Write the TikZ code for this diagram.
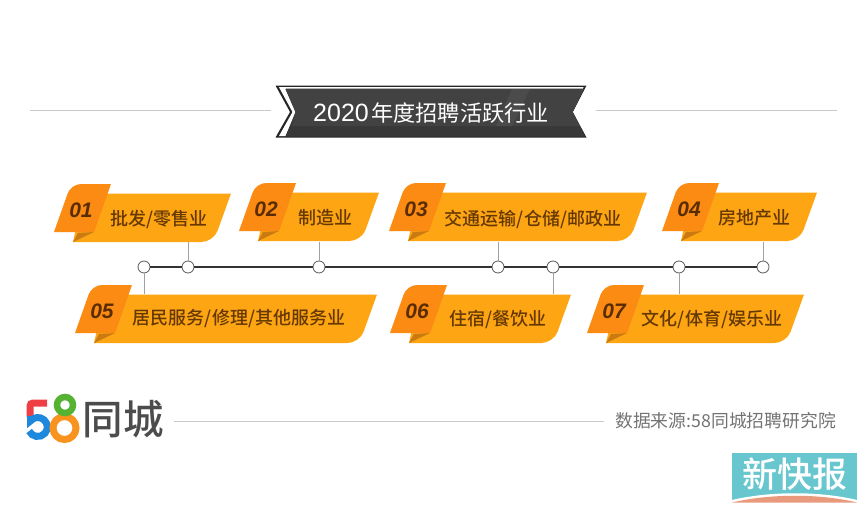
\documentclass[tikz,border=0pt]{standalone}
\usepackage{fontspec}
\setmainfont{Liberation Sans}
\newfontfamily\cjk{Noto Sans CJK SC}
\newfontfamily\cjkmid{Noto Sans CJK SC Medium}
\definecolor{tabbody}{HTML}{FDA513}
\definecolor{tabfront}{HTML}{FB8B13}
\definecolor{tabfold}{HTML}{C97A10}
\definecolor{tabtext}{HTML}{653804}
\definecolor{numcolor}{HTML}{5A2C02}
\definecolor{rulegray}{HTML}{C9C9C9}
\definecolor{bannerdark}{HTML}{424242}
\definecolor{bannerlow}{HTML}{383838}
\definecolor{papercyan}{HTML}{68C6CF}
\definecolor{paperband}{HTML}{E99A7C}
\definecolor{logored}{HTML}{EE3F45}
\definecolor{logoblue}{HTML}{1E88DC}
\definecolor{logogreen}{HTML}{55B233}
\definecolor{logoorange}{HTML}{F7931E}
\tikzset{
  pin/.style={circle,fill=white,draw=black!65,line width=0.8pt,inner sep=0pt,minimum size=12pt},
  stem/.style={rulegray!80!black,line width=1pt},
  axis/.style={black!80,line width=1.2pt},
  hline/.style={rulegray,line width=1pt},
  numtext/.style={font=\bfseries\itshape\fontsize{21}{21}\selectfont,text=numcolor,inner sep=0pt},
  lbltext/.style={font=\cjkmid\fontsize{18}{18}\selectfont,text=tabtext,inner sep=0pt},
}
\begin{document}
\begin{tikzpicture}[x=1pt,y=-1pt]
  \useasboundingbox (0,0) rectangle (866,527);

  % title
  \coordinate (l1) at (30,110);
  \coordinate (l2) at (271,110);
  \coordinate (l3) at (596,110);
  \coordinate (l4) at (837,110);
  \draw[hline] (l1) -- (l2);
  \draw[hline] (l3) -- (l4);
  \fill[black!85] (275.5,85.5) -- (586.5,85.5) -- (572.7,112) -- (586.5,137.5) -- (275.5,137.5) -- (290,112) -- cycle;
  \fill[white] (279,87.2) -- (583.5,87.2) -- (583,88.7) -- (285.5,88.7) -- (296,112) -- (285.5,136) -- (279,136) -- (292.5,112) -- cycle;
  \fill[bannerlow] (285.5,89) -- (584,89) -- (572.7,112) -- (585,136.5) -- (285.5,136.5) -- (295.5,112) -- cycle;
  \fill[bannerdark] (285.5,89) -- (583.5,89) -- (572.7,112) -- (580,126) -- (292,126) -- (295.5,112) -- cycle;
  \fill[white,opacity=0.05] (512,89) -- (530,89) -- (512,126) -- (496,126) -- cycle;
  \node[font=\fontsize{25}{25}\selectfont,text=white,inner sep=0pt,anchor=west] (year) at (313,113) {2020};
  \node[font=\cjk\fontsize{22.2}{22.2}\selectfont,text=white,inner sep=0pt,anchor=west] (title) at (371,113) {年度招聘活跃行业};

  % timeline
  \node[pin] (p1) at (144,267) {};
  \node[pin] (p2) at (188,267) {};
  \node[pin] (p3) at (319,267) {};
  \node[pin] (p4) at (498,267) {};
  \node[pin] (p5) at (553,267) {};
  \node[pin] (p6) at (679,267) {};
  \node[pin] (p7) at (763,267) {};
  \coordinate (s2) at (188,242);
  \coordinate (s3) at (319,242);
  \coordinate (s4) at (498,242);
  \coordinate (s7) at (763,242);
  \coordinate (s1) at (144,294);
  \coordinate (s5) at (553,294);
  \coordinate (s6) at (679,294);
  \foreach \i in {1,...,7} \draw[stem] (p\i) -- (s\i);
  \draw[axis] (p1) -- (p2);
  \draw[axis] (p2) -- (p3);
  \draw[axis] (p3) -- (p4);
  \draw[axis] (p4) -- (p5);
  \draw[axis] (p5) -- (p6);
  \draw[axis] (p6) -- (p7);

  % tags
  \foreach \tx/\ty/\tr/\num/\lbl/\lx/\ly in {
    54/184/231/01/批发{/}零售业/159/219,
    239/183/379/02/制造业/325/218,
    389/183/647/03/交通运输{/}仓储{/}邮政业/533/219,
    662/183/817/04/房地产业/754/218,
    75/285/377/05/居民服务{/}修理{/}其他服务业/239/319,
    390/285/571/06/住宿{/}餐饮业/498/319,
    587/285/804/07/文化{/}体育{/}娱乐业/712/319} {
    \fill[tabbody] ({\tx+30},{\ty+9.5}) -- (\tr,{\ty+9.5}) [rounded corners=12pt] -- ({\tr-17.5},{\ty+58}) [sharp corners] -- ({\tx+19},{\ty+58}) -- cycle;
    \fill[tabfold] ({\tx+19},{\ty+58}) -- ({\tx+24},{\ty+49}) -- ({\tx+40},{\ty+48}) -- cycle;
    \fill[tabfront] (\tx,{\ty+48}) [rounded corners=10pt] -- ({\tx+17},\ty) [sharp corners] -- ({\tx+57},\ty) -- ({\tx+40},{\ty+48}) -- cycle;
    \node[numtext] (num\num) at ({\tx+27},{\ty+26}) {\num};
    \node[lbltext] (lbl\num) at (\lx,\ly) {\lbl};
  }

  % footer
  \coordinate (f1) at (174,421);
  \coordinate (f2) at (604,421);
  \draw[hline] (f1) -- (f2);
  \node[font=\cjk\fontsize{17.8}{17.8}\selectfont,text=black!55,anchor=east,inner sep=0pt] (source) at (836,421) {数据来源:58同城招聘研究院};

  % 58 logo
  \draw[logored,line width=7pt,rounded corners=3pt] (47,403) -- (30,403) -- (30,417);
  \draw[logoblue,line width=7pt] (30.5,416) -- (30.5,420.9) arc (140:-155:9.5pt);
  \draw[logoorange,line width=7pt] (64.5,428) circle (11.5pt);
  \draw[logogreen,line width=6.5pt] (65,405) circle (8pt);
  \node[font=\cjkmid\fontsize{40.5}{40.5}\selectfont,text=black!70,inner sep=0pt] (brand) at (123,419) {同城};

  % paper logo
  \fill[papercyan] (732,453) rectangle (857,502);
  \fill[white] (732,500) .. controls (770,491) and (820,491) .. (857,500) -- (857,502) -- (732,502) -- cycle;
  \fill[paperband] (732,502.5) .. controls (770,493.5) and (820,493.5) .. (857,502.5) -- cycle;
  \node[font=\cjkmid\fontsize{35}{35}\selectfont,text=white,inner sep=0pt] (paper) at (794.5,474) {新快报};
\end{tikzpicture}
\end{document}
